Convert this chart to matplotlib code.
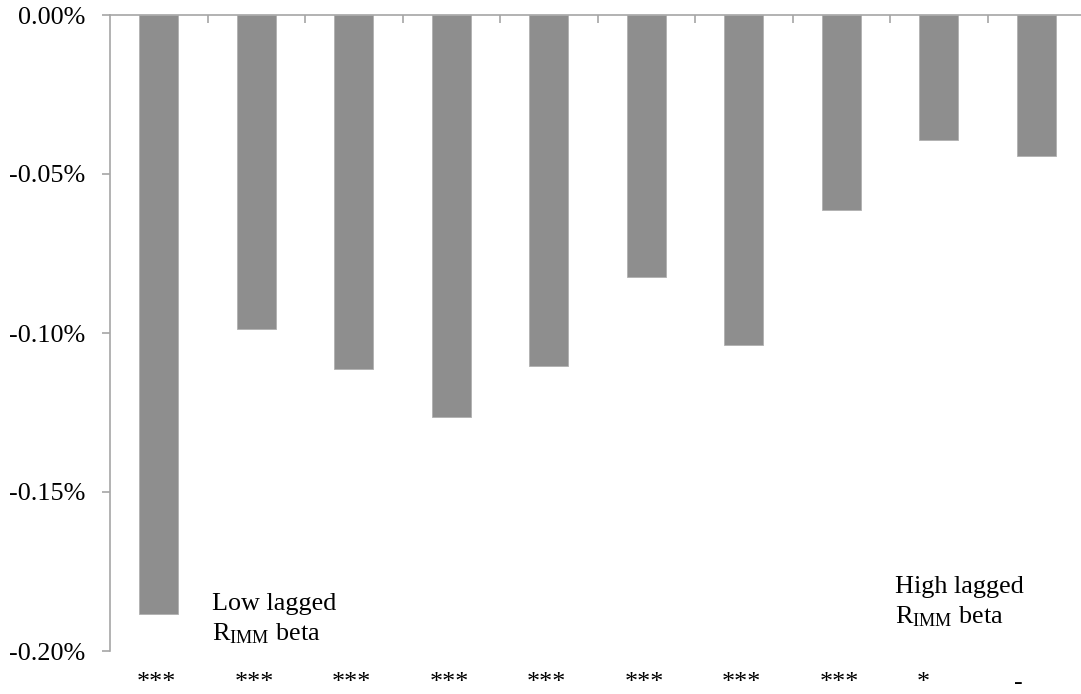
import matplotlib.pyplot as plt
import numpy as np
from matplotlib.ticker import FuncFormatter

plt.rcParams['font.family'] = ['Liberation Serif', 'DejaVu Serif']
plt.rcParams['mathtext.fontset'] = 'custom'
plt.rcParams['mathtext.rm'] = 'Liberation Serif'
plt.rcParams['mathtext.it'] = 'Liberation Serif:italic'

# portfolio returns (in %), from low to high lagged R_IMM beta
returns = [-0.1884, -0.0987, -0.1114, -0.1265, -0.1105,
           -0.0824, -0.1038, -0.0613, -0.0394, -0.0443]
significance = ["***", "***", "***", "***", "***",
                "***", "***", "***", "*", "-"]
y_ticks = [0.0, -0.05, -0.10, -0.15, -0.20]

axis_grey = "#a6a6a6"
fs = 18.8

fig = plt.figure(figsize=(10.81, 6.94), dpi=100)
ax = fig.add_axes([110 / 1081, 1 - 651 / 694, 1 - 110 / 1081, (651 - 15) / 694])

x = np.arange(len(returns))
ax.bar(x, returns, width=0.4, color="#8e8e8e", edgecolor="#b0b0b0", linewidth=0.6, zorder=2)

ax.set_xlim(-0.5, -0.5 + (1081 - 110) / 97.5)
ax.set_ylim(-0.20, 0.0)

# x axis sits at the top (y = 0), y axis on the left
ax.spines["bottom"].set_visible(False)
ax.spines["right"].set_visible(False)
for side in ["top", "left"]:
    ax.spines[side].set_color(axis_grey)
    ax.spines[side].set_linewidth(1.2)

ax.set_yticks(y_ticks)
ax.yaxis.set_major_formatter(FuncFormatter(lambda v, p: "%.2f%%" % v))
ax.tick_params(axis="y", direction="out", length=5.5, width=1.2, color=axis_grey,
               labelsize=fs, pad=12)

ax.xaxis.tick_top()
ax.set_xticks([])
ax.set_xticks(x[:-1] + 0.5, minor=True)
ax.tick_params(axis="x", which="minor", direction="in", length=5.5, width=1.2,
               color=axis_grey, labeltop=False)

# significance markers under each bar (left aligned inside each category)
for i, s in enumerate(significance):
    ax.text(i - 0.225, 0, s, transform=ax.get_xaxis_transform(), fontsize=fs,
            ha="left", va="baseline", clip_on=False)
    ax.texts[-1].set_y(-(689 - 651) / 636)

fig.text(211.5 / 1081, 1 - 610 / 694, "Low lagged", fontsize=fs, ha="left", va="baseline")
fig.text(211.5 / 1081, 1 - 640 / 694, r"R$_{\mathrm{IMM}}$ beta", fontsize=fs,
         ha="left", va="baseline")
fig.text(895 / 1081, 1 - 593 / 694, "High lagged", fontsize=fs, ha="left", va="baseline")
fig.text(895 / 1081, 1 - 623 / 694, r"R$_{\mathrm{IMM}}$ beta", fontsize=fs,
         ha="left", va="baseline")

fig.savefig("out.png", dpi=100)
